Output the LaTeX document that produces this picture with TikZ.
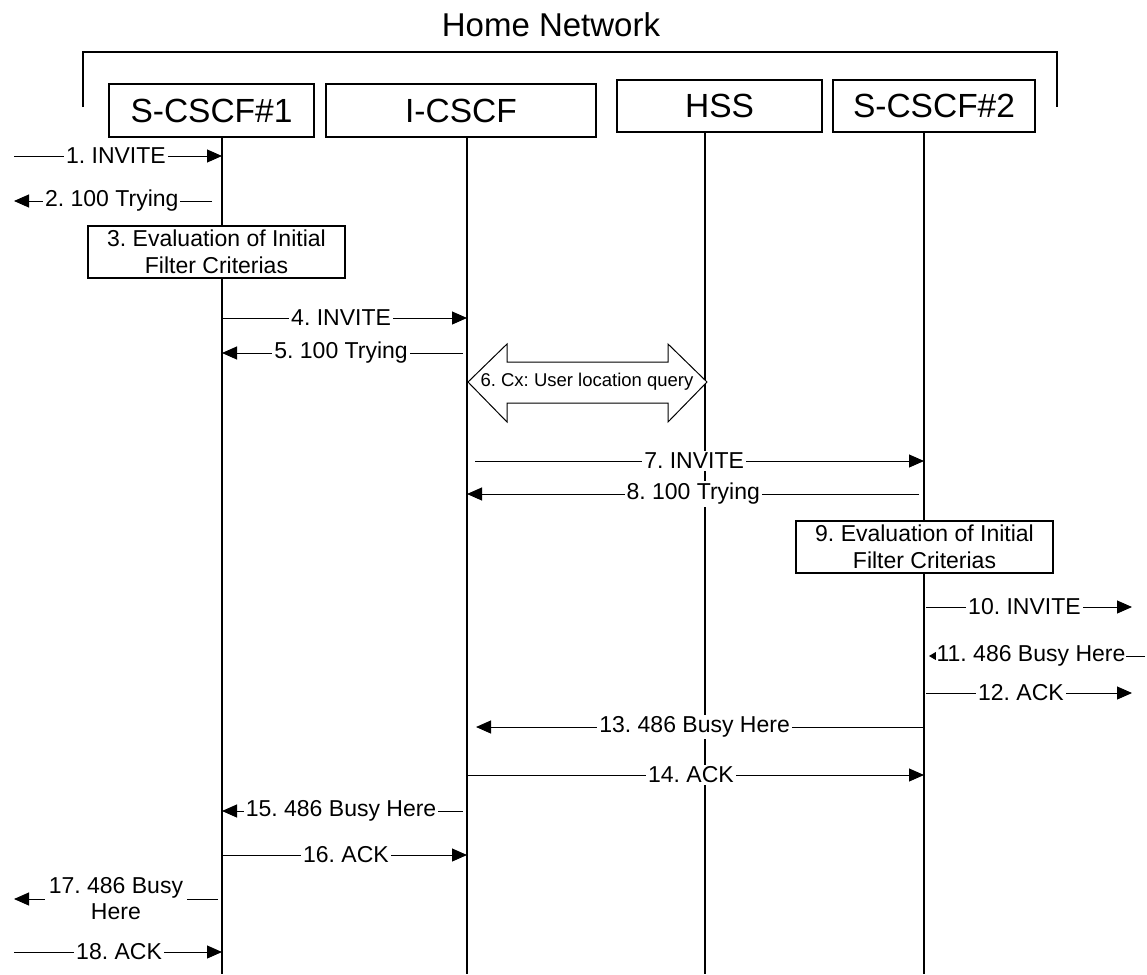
\documentclass[tikz,border=0pt]{standalone}
\usepackage{fontspec}
\setmainfont{Liberation Sans}
\usetikzlibrary{arrows.meta}
\frenchspacing

\tikzset{
	head/.style={draw, line width=1.4pt, minimum height=52pt, inner sep=0pt, font=\fontsize{33.5}{38}\selectfont},
	evalbox/.style={draw, fill=white, line width=1.4pt, minimum width=257pt, minimum height=52pt, align=center, inner sep=0pt, font=\fontsize{23}{27}\selectfont},
	life/.style={line width=1.6pt},
	msg/.style={line width=1pt, -{Triangle[length=15pt,width=13pt]}},
	lbl/.style={fill=white, inner sep=2pt, font=\fontsize{23}{26}\selectfont}
}

\begin{document}
\begin{tikzpicture}[x=1pt, y=-1pt]
		\useasboundingbox (0,0) rectangle (1147,974);
		\node[font=\fontsize{33}{38}\selectfont] (title) at (551,25) {Home Network};
		\draw[line width=1.6pt] (83,107) -- (83,52) -- (1057,52) -- (1057,107);
	
		% entities
		\node[head, minimum width=205pt, minimum height=53pt] (scscfone) at (211.5,110.5) {S-CSCF\#1};
		\node[head, minimum width=270pt, minimum height=53pt] (icscf) at (461,110.5) {I-CSCF};
		\node[head, minimum width=205pt] (hss) at (719.5,106) {HSS};
		\node[head, minimum width=202pt] (scscftwo) at (934,106) {S-CSCF\#2};
	
		% lifelines
		\coordinate (l1) at (222,137);
		\coordinate (l2) at (467,137);
		\coordinate (l3) at (705,132);
		\coordinate (l4) at (924,132);
		\draw[life] (l1) -- (l1 |- 0,974);
		\draw[life] (l2) -- (l2 |- 0,974);
		\draw[life] (l3) -- (l3 |- 0,974);
		\draw[life] (l4) -- (l4 |- 0,974);
		\coordinate (west) at (14,0);
		\coordinate (east) at (1132,0);
	
		\draw[msg] (west |- 0,156) -- (l1 |- 0,156) node[lbl, pos=.49] (m1) {1. INVITE};
		\draw[msg, shorten <=10pt] (l1 |- 0,201) -- (west |- 0,201) node[lbl, pos=.53] (m2) {2. 100 Trying};
		\node[evalbox] (evalone) at (216.5,252) {3. Evaluation of Initial\\Filter Criterias};
		\draw[msg] (l1 |- 0,318) -- (l2 |- 0,318) node[lbl, pos=.486] (m4) {4. INVITE};
		\draw[msg, shorten <=4pt] (l2 |- 0,353) -- (l1 |- 0,353) node[lbl, pos=.514] (m5) {5. 100 Trying};
	
		% Cx query
		\draw[line width=1pt, fill=white] (468,382) -- (507,344) -- (507,362) -- (668,362) -- (668,344) -- (707,382)
			-- (668,422) -- (668,403) -- (507,403) -- (507,422) -- cycle;
		\node[font=\fontsize{18.5}{22}\selectfont] (cx) at (587,382) {6. Cx: User location query};
	
		\draw[msg, shorten <=8pt] (l2 |- 0,461) -- (l4 |- 0,461) node[lbl, pos=.497] (m7) {7. INVITE};
		\draw[msg, shorten <=5pt] (l4 |- 0,494) -- (l2 |- 0,494) node[lbl, pos=.505] (m8) {8. 100 Trying};
		\node[evalbox] (evaltwo) at (924.5,547) {9. Evaluation of Initial\\Filter Criterias};
		\draw[msg, shorten <=2pt] (l4 |- 0,607) -- (east |- 0,607) node[lbl, pos=.483] (m10) {10. INVITE};
		\draw[line width=1pt, -{Triangle[length=7pt,width=8pt]}, shorten >=5pt] (east |- 0,656) ++(13,0) -- (l4 |- 0,656) node[lbl, pos=.516, inner sep=1pt] (m11) {11. 486 Busy Here};
		\draw[msg, shorten <=2pt] (l4 |- 0,693) -- (east |- 0,693) node[lbl, pos=.466] (m12) {12. ACK};
		\draw[msg, shorten >=9pt] (l4 |- 0,727) -- (l2 |- 0,727) node[lbl, pos=.502] (m13) {13. 486 Busy Here};
		\draw[msg] (l2 |- 0,775) -- (l4 |- 0,775) node[lbl, pos=.49] (m14) {14. ACK};
		\draw[msg, shorten <=4pt] (l2 |- 0,811) -- (l1 |- 0,811) node[lbl, pos=.514] (m15) {15. 486 Busy Here};
		\draw[msg] (l1 |- 0,855) -- (l2 |- 0,855) node[lbl, pos=.506] (m16) {16. ACK};
		\draw[msg, shorten <=4pt] (l1 |- 0,899) -- (west |- 0,899) node[lbl, pos=.51, align=center, inner sep=4pt] (m17) {17. 486 Busy\\Here};
		\draw[msg] (west |- 0,952) -- (l1 |- 0,952) node[lbl, pos=.505] (m18) {18. ACK};
	\end{tikzpicture}
\end{document}
